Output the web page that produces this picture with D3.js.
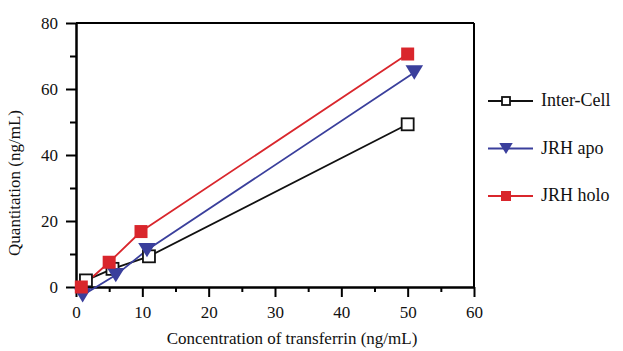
<!DOCTYPE html>
<html>
<head>
<meta charset="utf-8">
<script src="https://cdn.jsdelivr.net/npm/d3@7"></script>
<style>
  body { margin: 0; background: #fff; }
  svg { display: block; }
  svg text { font-family: "Liberation Serif", "DejaVu Serif", serif; }
</style>
</head>
<body>
<svg id="chart" width="623" height="351"></svg>
<script>
// series
const series = ["Inter-Cell", "JRH apo", "JRH holo"];
const interX = [1.5, 5.5, 11, 50];
const interY = [2, 5.5, 9.3, 49.3];
const apoX = [1, 6, 10.7, 51];
const apoY = [-2.5, 3.6, 11.2, 65];
const holoX = [0.8, 5, 9.8, 50];
const holoY = [0, 7.5, 16.8, 70.6];

const xTicks = [0, 10, 20, 30, 40, 50, 60];
const yTicks = [0, 20, 40, 60, 80];
const xMinor = [5, 15, 25, 35, 45, 55];
const yMinor = [10, 30, 50, 70];

const colors = {"Inter-Cell": "#111111", "JRH apo": "#3a3f9c", "JRH holo": "#d9262c"};

const dims = {width: 398, height: 264, margin: {left: 76, top: 23}};

const svg = d3.select('#chart');
const graph = svg.append('g')
    .attr('transform', `translate(${dims.margin.left}, ${dims.margin.top})`);

const xScale = d3.scaleLinear().domain([0, 60]).range([0, dims.width]);
const yScale = d3.scaleLinear().domain([0, 80]).range([dims.height, 0]);

// axes: major ticks with labels, minor ticks without
const xAxis = d3.axisBottom(xScale).tickValues(xTicks).tickSize(10).tickPadding(9).tickSizeOuter(0);
const xAxisMinor = d3.axisBottom(xScale).tickValues(xMinor).tickSize(5).tickFormat('').tickSizeOuter(0);
const yAxis = d3.axisLeft(yScale).tickValues(yTicks).tickSize(10).tickPadding(8).tickSizeOuter(0);
const yAxisMinor = d3.axisLeft(yScale).tickValues(yMinor).tickSize(6).tickFormat('').tickSizeOuter(0);

graph.append('g').attr('transform', `translate(0, ${dims.height})`).call(xAxis);
graph.append('g').attr('transform', `translate(0, ${dims.height})`).call(xAxisMinor);
graph.append('g').call(yAxis);
graph.append('g').call(yAxisMinor);

// top and right frame lines
graph.append('line').attr('x1', 0).attr('x2', dims.width).attr('y1', 0).attr('y2', 0);
graph.append('line').attr('x1', dims.width).attr('x2', dims.width).attr('y1', 0).attr('y2', dims.height);

graph.selectAll('.domain, .tick line, line')
    .attr('stroke', '#000').attr('stroke-width', 2);
graph.selectAll('g').attr('font-family', null);
graph.selectAll('.tick text')
    .style('font-family', '"Liberation Serif", serif')
    .attr('font-size', 17).attr('fill', '#111');

// axis titles
svg.append('text')
    .attr('x', 292).attr('y', 344)
    .attr('text-anchor', 'middle').attr('font-size', 17).attr('fill', '#111')
    .text('Concentration of transferrin (ng/mL)');
svg.append('text')
    .attr('transform', 'translate(20, 183) rotate(-90)')
    .attr('text-anchor', 'middle').attr('font-size', 17).attr('fill', '#111')
    .text('Quantitation (ng/mL)');

const data = [
    {name: "Inter-Cell", pts: interX.map((x, i) => [x, interY[i]])},
    {name: "JRH apo", pts: apoX.map((x, i) => [x, apoY[i]])},
    {name: "JRH holo", pts: holoX.map((x, i) => [x, holoY[i]])}
];

const line = d3.line().x(d => xScale(d[0])).y(d => yScale(d[1]));

// marker drawing per series
const drawMarker = (sel, name, size) => {
    if (name === "Inter-Cell") {
        sel.append('rect')
            .attr('x', -size / 2).attr('y', -size / 2).attr('width', size).attr('height', size)
            .attr('fill', '#fff').attr('stroke', colors[name]).attr('stroke-width', 1.8);
    } else if (name === "JRH apo") {
        const w = size * 1.35, h = size * 1.1;
        sel.append('path')
            .attr('d', `M${-w / 2},${-h / 2}L${w / 2},${-h / 2}L0,${h / 2}Z`)
            .attr('fill', colors[name]);
    } else {
        sel.append('rect')
            .attr('x', -size / 2).attr('y', -size / 2).attr('width', size).attr('height', size)
            .attr('fill', colors[name]);
    }
};

data.forEach(s => {
    graph.append('path')
        .datum(s.pts)
        .attr('fill', 'none')
        .attr('stroke', colors[s.name])
        .attr('stroke-width', 1.8)
        .attr('d', line);
});

data.forEach(s => {
    graph.selectAll(null)
        .data(s.pts)
        .enter().append('g')
        .attr('transform', d => `translate(${xScale(d[0])}, ${yScale(d[1])})`)
        .each(function () { drawMarker(d3.select(this), s.name, s.name === "Inter-Cell" ? 12 : 13); });
});

// legend
const legend = svg.append('g').attr('transform', 'translate(488, 0)');
const legendY = d3.scalePoint().domain(series).range([101, 196]);
series.forEach(name => {
    const g = legend.append('g').attr('transform', `translate(0, ${legendY(name)})`);
    g.append('line').attr('x1', 0).attr('x2', 45).attr('y1', 0).attr('y2', 0)
        .attr('stroke', colors[name]).attr('stroke-width', 1.8);
    const m = g.append('g').attr('transform', 'translate(18, 0)');
    drawMarker(m, name, name === "Inter-Cell" ? 8 : 10);
    g.append('text').attr('x', 53).attr('y', 5)
        .attr('font-size', 18).attr('fill', '#111')
        .text(name);
});
</script>
</body>
</html>
